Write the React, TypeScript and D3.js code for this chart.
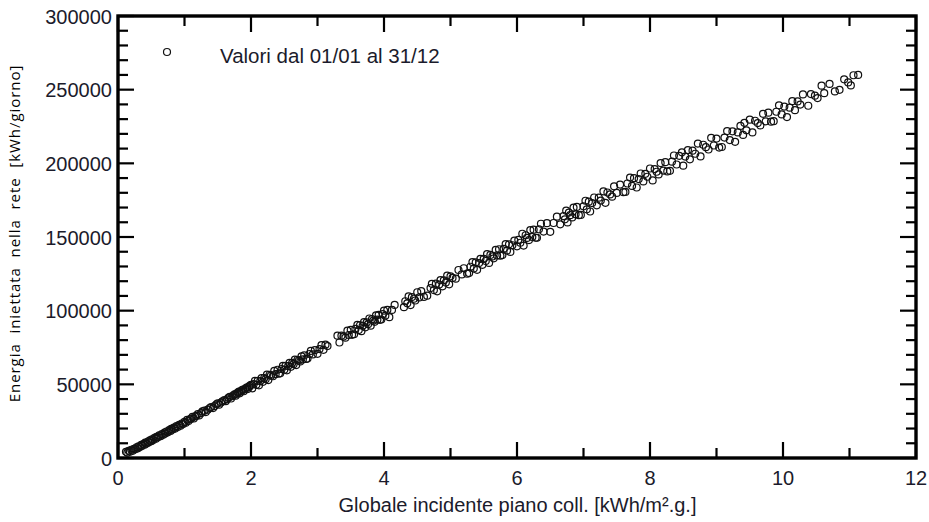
import React, { useEffect, useRef } from "react";
import * as d3 from "d3";

// Daily values: [global irradiation on collector plane (kWh/m².g), energy injected into grid (kWh/day)]
const dailyPoints: [number, number][] = [
  [0.12, 4200], [0.14, 3600], [0.16, 4900], [0.18, 4300], [0.2, 5600], [0.22, 4900], [0.24, 6200], [0.26, 5900],
  [0.28, 7300], [0.3, 6600], [0.31, 7900], [0.33, 7500], [0.35, 8900], [0.36, 8200], [0.38, 9500], [0.4, 9000],
  [0.41, 10400], [0.43, 9800], [0.45, 11200], [0.46, 10600], [0.48, 11900], [0.5, 11400], [0.51, 12700], [0.53, 12200],
  [0.55, 13600], [0.57, 13100], [0.58, 14300], [0.6, 14000], [0.62, 15300], [0.64, 14800], [0.66, 16200], [0.68, 15700],
  [0.7, 17300], [0.71, 16600], [0.73, 18000], [0.75, 17400], [0.77, 18900], [0.79, 18400], [0.8, 19800], [0.82, 19300],
  [0.84, 20600], [0.86, 20000], [0.88, 21600], [0.9, 21100], [0.92, 22500], [0.94, 21900], [0.96, 23400], [0.98, 23000],
  [1.0, 24500],
  [1.02, 24000], [1.04, 25900], [1.06, 25100], [1.08, 26300], [1.1, 26700], [1.12, 27900], [1.14, 26800], [1.16, 28200],
  [1.18, 28600], [1.2, 29800], [1.22, 28900], [1.25, 30400], [1.27, 31600], [1.3, 32100], [1.32, 31200], [1.35, 32800],
  [1.38, 33900], [1.4, 34600], [1.43, 33900], [1.45, 35200], [1.48, 36400], [1.5, 37100], [1.52, 36200], [1.55, 37600],
  [1.57, 38500], [1.6, 39300], [1.62, 38600], [1.64, 39800], [1.66, 40900], [1.68, 41500], [1.7, 40400], [1.72, 41900],
  [1.74, 42700], [1.76, 43300], [1.77, 42300], [1.79, 43600], [1.8, 44400], [1.82, 45000], [1.83, 43900], [1.85, 45100],
  [1.86, 45900], [1.88, 46500], [1.89, 45300], [1.91, 46600], [1.92, 47300], [1.94, 48000], [1.95, 46800], [1.97, 48100],
  [1.98, 48900], [2.0, 49600],
  [2.02, 47300], [2.04, 50200], [2.06, 52300], [2.08, 49700], [2.1, 52400], [2.12, 49300], [2.14, 52200], [2.16, 54200],
  [2.18, 51700], [2.2, 54300], [2.22, 53500], [2.24, 56600], [2.26, 52900], [2.28, 56500], [2.3, 55900], [2.33, 55500],
  [2.35, 59100], [2.37, 56900], [2.4, 59900], [2.42, 57300], [2.44, 57500], [2.46, 60400], [2.48, 62500], [2.5, 59900],
  [2.52, 62600], [2.54, 59500], [2.56, 62400], [2.58, 64500], [2.6, 61900], [2.62, 64500], [2.64, 63700], [2.66, 66800],
  [2.68, 63100], [2.7, 66700], [2.72, 66100], [2.74, 65500], [2.76, 69000], [2.78, 66900], [2.8, 69600], [2.83, 67200],
  [2.85, 67500], [2.88, 70600], [2.9, 72700], [2.93, 70300], [2.96, 73200], [3.0, 70700],
  [3.03, 73900], [3.06, 76600], [3.09, 73400], [3.12, 76900], [3.15, 76000], [3.3, 83000], [3.33, 78400], [3.36, 83000],
  [3.39, 82400], [3.42, 81700], [3.45, 86400], [3.47, 83500], [3.5, 87000], [3.52, 83600], [3.55, 84000], [3.57, 87600],
  [3.6, 90300], [3.62, 86800], [3.64, 90100], [3.66, 86100], [3.68, 89700], [3.7, 92200], [3.72, 88700], [3.74, 92000],
  [3.76, 90800], [3.78, 94700], [3.8, 89800], [3.82, 94200], [3.84, 93300], [3.86, 92400], [3.88, 96800], [3.9, 93900],
  [3.92, 97200], [3.94, 93800], [3.96, 94000], [3.98, 97600], [4.0, 100000], [4.02, 96600],
  [4.05, 100500], [4.08, 95600], [4.12, 100500], [4.16, 103900], [4.3, 102400], [4.32, 106400], [4.35, 105000], [4.37, 109700],
  [4.4, 103800], [4.42, 109200], [4.45, 108100], [4.47, 106900], [4.5, 112500], [4.53, 109000], [4.56, 113300], [4.6, 109300],
  [4.65, 110200], [4.7, 115300], [4.72, 118200], [4.75, 114000], [4.78, 118300], [4.8, 113100], [4.83, 117700], [4.85, 120700],
  [4.88, 116500], [4.9, 120500], [4.93, 119100], [4.95, 123800], [4.98, 117900], [5.0, 123300], [5.03, 122200],
  [5.08, 121700], [5.12, 127600], [5.17, 124600], [5.2, 128800], [5.25, 125100], [5.28, 125500], [5.3, 129800], [5.33, 133000],
  [5.35, 128600], [5.38, 132800], [5.4, 127700], [5.43, 132300], [5.45, 135200], [5.48, 131100], [5.5, 135100], [5.53, 133700],
  [5.55, 138400], [5.58, 132400], [5.6, 137800], [5.63, 136800], [5.65, 135500], [5.68, 141200], [5.7, 137500], [5.73, 141700],
  [5.75, 137300], [5.78, 137700], [5.8, 142000], [5.83, 145200], [5.85, 140800], [5.88, 145000], [5.9, 139900], [5.93, 144400],
  [5.96, 147600], [6.0, 143700],
  [6.02, 148100], [6.05, 146100], [6.08, 152200], [6.1, 144200], [6.13, 151200], [6.15, 149400], [6.18, 147900], [6.2, 154700],
  [6.23, 150000], [6.25, 155000], [6.28, 149500], [6.3, 149500], [6.33, 155200], [6.36, 159000], [6.4, 153700], [6.45, 159400],
  [6.5, 153500], [6.55, 159500], [6.6, 163800], [6.65, 158600], [6.7, 164200], [6.72, 162000], [6.74, 167900], [6.76, 159900],
  [6.78, 166600], [6.8, 164800], [6.83, 163300], [6.85, 170000], [6.88, 165400], [6.9, 170400], [6.93, 164800], [6.96, 165000],
  [7.0, 170800],
  [7.03, 174600], [7.05, 168800], [7.08, 174000], [7.1, 167300], [7.13, 173000], [7.16, 176800], [7.2, 171500], [7.23, 176700],
  [7.26, 174700], [7.3, 181000], [7.33, 173200], [7.36, 180200], [7.4, 178900], [7.43, 177400], [7.46, 184400], [7.5, 179900],
  [7.55, 185600], [7.6, 180400], [7.63, 180600], [7.66, 186300], [7.7, 190300], [7.73, 184700], [7.76, 189900], [7.8, 183600],
  [7.83, 189300], [7.86, 193100], [7.9, 187700], [7.93, 192900], [7.96, 190900], [8.0, 196500],
  [8.04, 188400], [8.07, 196100], [8.1, 194300], [8.13, 192500], [8.16, 200200], [8.2, 195100], [8.23, 200800], [8.26, 194500],
  [8.3, 194900], [8.33, 201100], [8.36, 205300], [8.4, 199200], [8.44, 205100], [8.48, 207500], [8.5, 198400], [8.53, 204600],
  [8.57, 209000], [8.6, 202700], [8.64, 208600], [8.68, 206500], [8.72, 213400], [8.76, 204700], [8.8, 212600], [8.84, 211000],
  [8.88, 209400], [8.92, 217300], [8.96, 212100], [9.0, 216800],
  [9.04, 210700], [9.08, 211100], [9.12, 217500], [9.16, 221900], [9.2, 215800], [9.24, 221700], [9.28, 214600], [9.32, 221000],
  [9.36, 225400], [9.4, 219300], [9.42, 227500], [9.45, 222400], [9.5, 229600], [9.54, 221000], [9.58, 228900], [9.62, 227300],
  [9.66, 225700], [9.7, 233600], [9.74, 228500], [9.78, 234400], [9.82, 228300], [9.86, 228600], [9.9, 235000], [9.94, 239400],
  [9.98, 233200],
  [10.02, 238500], [10.06, 231400], [10.1, 237800], [10.14, 242200], [10.18, 236100], [10.22, 242000], [10.26, 239900], [10.3, 246800],
  [10.38, 239100], [10.42, 247000], [10.48, 245900], [10.52, 244300], [10.58, 252700], [10.62, 247600], [10.7, 253900], [10.78, 248800],
  [10.85, 249900], [10.92, 257000], [10.98, 254900], [11.02, 252900], [11.06, 259800], [11.13, 260000],
];

const xTickValues = [0, 2, 4, 6, 8, 10, 12];
const yTickValues = [0, 50000, 100000, 150000, 200000, 250000, 300000];
const legendLabel = "Valori dal 01/01 al 31/12";
const xAxisTitle = "Globale incidente piano coll. [kWh/m².g.]";
const yAxisTitle = "Energia  iniettata  nella  rete  [kWh/giorno]";

const W = 929;
const H = 522;
const plot = { left: 118, right: 916, top: 16, bottom: 458 };

export default function App() {
  const tickRef = useRef<SVGGElement | null>(null);
  const x = d3.scaleLinear().domain([0, 12]).range([plot.left, plot.right]);
  const y = d3.scaleLinear().domain([0, 300000]).range([plot.bottom, plot.top]);
  const font = "'Liberation Sans', Arial, sans-serif";

  useEffect(() => {
    if (!tickRef.current) return;
    const g = d3.select(tickRef.current);
    g.selectAll("*").remove();
    const xMinor = d3.range(1, 12, 2);
    const yMinor = d3.range(0, 300001, 10000).filter((v) => v % 50000 !== 0);
    const MAJ = 16;
    const MIN = 10;
    type Seg = { x1: number; y1: number; x2: number; y2: number };
    const segs: Seg[] = [];
    const addV = (v: number, len: number) => {
      segs.push({ x1: x(v), y1: plot.bottom, x2: x(v), y2: plot.bottom - len });
      segs.push({ x1: x(v), y1: plot.top, x2: x(v), y2: plot.top + len });
    };
    const addH = (v: number, len: number) => {
      segs.push({ x1: plot.left, y1: y(v), x2: plot.left + len, y2: y(v) });
      segs.push({ x1: plot.right, y1: y(v), x2: plot.right - len, y2: y(v) });
    };
    xTickValues.forEach((v) => addV(v, MAJ));
    xMinor.forEach((v) => addV(v, MIN));
    yTickValues.forEach((v) => addH(v, MAJ));
    yMinor.forEach((v) => addH(v, MIN));
    g.selectAll("line")
      .data(segs)
      .join("line")
      .attr("x1", (d) => d.x1)
      .attr("y1", (d) => d.y1)
      .attr("x2", (d) => d.x2)
      .attr("y2", (d) => d.y2)
      .attr("stroke", "#000")
      .attr("stroke-width", 2.2);
  }, []);

  return (
    <svg width={W} height={H} style={{ position: "absolute", left: 0, top: 0, background: "#fff" }}>
      {/* data points */}
      <g fill="none" stroke="#111" strokeWidth={1.2}>
        {dailyPoints.map(([gx, ey], i) => (
          <circle key={i} cx={x(gx)} cy={y(ey)} r={3.5} />
        ))}
      </g>

      {/* frame */}
      <rect
        x={plot.left}
        y={plot.top}
        width={plot.right - plot.left}
        height={plot.bottom - plot.top}
        fill="none"
        stroke="#000"
        strokeWidth={3.4}
      />

      {/* ticks, inward on all four sides (drawn by d3) */}
      <g ref={tickRef} />

      {/* tick labels */}
      <g fontFamily={font} fontSize={20} fill="#1b1b2b">
        {xTickValues.map((v) => (
          <text key={"xl" + v} x={x(v)} y={485} textAnchor="middle">
            {v}
          </text>
        ))}
        {yTickValues.map((v) => (
          <text key={"ylab" + v} x={112} y={y(v) + 7.5} textAnchor="end">
            {v}
          </text>
        ))}
      </g>

      {/* axis titles */}
      <text x={(335 + 700) / 2} y={512} textAnchor="middle" fontFamily={font} fontSize={20} fill="#1b1b2b">
        {xAxisTitle}
      </text>
      <text
        transform={`translate(20, 233.5) rotate(-90)`}
        textAnchor="middle"
        fontFamily="'Open Sans', 'Noto Sans', sans-serif"
        fontSize={15}
        fill="#000"
        style={{ whiteSpace: "pre", letterSpacing: "0.95px" }}
      >
        {yAxisTitle}
      </text>

      {/* legend */}
      <circle cx={167} cy={52} r={3.5} fill="none" stroke="#111" strokeWidth={1.2} />
      <text x={220} y={63} fontFamily={font} fontSize={20.5} fill="#1b1b2b">
        {legendLabel}
      </text>
    </svg>
  );
}
